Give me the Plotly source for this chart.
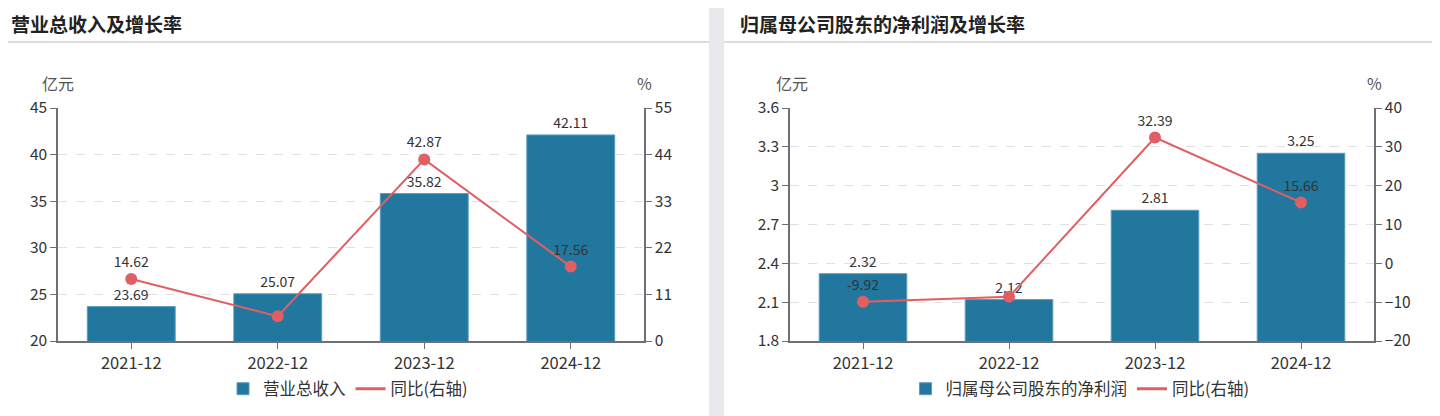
import plotly.graph_objects as go

W, H = 1440, 416
OFF = 8  # the page puts the figure 8px in from the corner

periods = ["2021-12", "2022-12", "2023-12", "2024-12"]
revenue = [23.69, 25.07, 35.82, 42.11]
revenue_yoy = [14.62, 5.83, 42.87, 17.56]
revenue_yoy_text = ["14.62", "", "42.87", "17.56"]
profit = [2.32, 2.12, 2.81, 3.25]
profit_yoy = [-9.92, -8.62, 32.39, 15.66]
profit_yoy_text = ["-9.92", "", "32.39", "15.66"]

BAR = "#22779f"
LINE = "#e05f63"
AXIS = "#6e7079"
FONT = "Noto Sans CJK SC, Noto Sans, sans-serif"


def px(x):
    return (x - OFF) / W


def py(y):
    return 1 - (y - OFF) / H


fig = go.Figure()


def add_panel(xa, ya, ya2, leg, bar_name, bars, yoy, yoy_text):
    fig.add_trace(go.Bar(x=periods, y=bars, name=bar_name,
                         marker=dict(color=BAR, line=dict(color="#5a9cc4", width=1)),
                         width=0.6, text=[f"{v:.2f}" for v in bars], textposition="outside",
                         textfont=dict(size=14, color="#333"), cliponaxis=False,
                         xaxis=xa, yaxis=ya, legend=leg))
    fig.add_trace(go.Scatter(x=periods, y=yoy, name="同比(右轴)", mode="lines+markers+text",
                             line=dict(color=LINE, width=2), marker=dict(color=LINE, size=12),
                             text=yoy_text, textposition="top center",
                             textfont=dict(size=14, color="#333"), cliponaxis=False,
                             showlegend=False, xaxis=xa, yaxis=ya2))
    # legend entry: plain line, no marker
    fig.add_trace(go.Scatter(x=[None], y=[None], name="同比(右轴)", mode="lines",
                             line=dict(color=LINE, width=3), xaxis=xa, yaxis=ya2, legend=leg))


add_panel("x", "y", "y2", "legend", "营业总收入", revenue, revenue_yoy, revenue_yoy_text)
add_panel("x2", "y3", "y4", "legend2", "归属母公司股东的净利润", profit, profit_yoy, profit_yoy_text)

xcommon = dict(type="category", showline=True, linecolor=AXIS, linewidth=1.5, ticks="outside", ticklen=6,
               tickcolor=AXIS, tickfont=dict(size=16.5, color="#333"), showgrid=False, zeroline=False,
               fixedrange=True, automargin=False)
ycommon = dict(showline=True, linecolor=AXIS, linewidth=1.5, ticks="outside", ticklen=6, tickcolor=AXIS,
               tickfont=dict(size=15.5, color="#333"), zeroline=False, fixedrange=True, automargin=False)
grid = dict(showgrid=True, gridcolor="#e0e0e0", griddash="dash", gridwidth=1)

ydom = [py(341), py(108)]
legfont = dict(size=16.5, color="#333")

fig.update_layout(
    width=W, height=H,
    margin=dict(l=0, r=0, t=0, b=0, pad=0, autoexpand=False),
    paper_bgcolor="#e8e9ec",
    plot_bgcolor="rgba(0,0,0,0)",
    font=dict(family=FONT, color="#333"),
    xaxis=dict(domain=[px(58), px(644)], anchor="y", **xcommon),
    yaxis=dict(domain=ydom, anchor="x", range=[20, 45], dtick=5, **grid, **ycommon),
    yaxis2=dict(overlaying="y", side="right", anchor="x", range=[0, 55], dtick=11, showgrid=False, **ycommon),
    xaxis2=dict(domain=[px(790), px(1374)], anchor="y3", **xcommon),
    yaxis3=dict(domain=ydom, anchor="x2", range=[1.8, 3.6], dtick=0.3, tickformat="~r", **grid, **ycommon),
    yaxis4=dict(overlaying="y3", side="right", anchor="x2", range=[-20, 40], dtick=10, showgrid=False, **ycommon),
    legend=dict(orientation="h", x=px(348), y=py(389), xanchor="center", yanchor="middle",
                bgcolor="rgba(0,0,0,0)", font=legfont, itemwidth=30),
    legend2=dict(orientation="h", x=px(1080), y=py(389), xanchor="center", yanchor="middle",
                 bgcolor="rgba(0,0,0,0)", font=legfont, itemwidth=30),
    showlegend=True,
)

# white cards with header separators
shapes = []
for x0, x1 in [(0, 709), (724, 1437)]:
    shapes.append(dict(type="rect", xref="paper", yref="paper", x0=px(x0), x1=px(x1), y0=-0.1, y1=py(5),
                       fillcolor="white", line=dict(width=0), layer="below"))
    shapes.append(dict(type="line", xref="paper", yref="paper", x0=px(x0), x1=px(x1), y0=py(42), y1=py(42),
                       line=dict(color="#dcdcdc", width=2), layer="below"))
fig.update_layout(shapes=shapes)

annotations = [
    dict(text="<b>营业总收入及增长率</b>", x=px(9), y=py(24), xanchor="left", yanchor="middle",
         font=dict(size=19, color="#222")),
    dict(text="<b>归属母公司股东的净利润及增长率</b>", x=px(738), y=py(24), xanchor="left", yanchor="middle",
         font=dict(size=19, color="#222")),
    dict(text="亿元", x=px(58), y=py(83), xanchor="center", yanchor="middle", font=dict(size=16, color="#555")),
    dict(text="%", x=px(644), y=py(83), xanchor="center", yanchor="middle", font=dict(size=16, color="#555")),
    dict(text="亿元", x=px(792), y=py(83), xanchor="center", yanchor="middle", font=dict(size=16, color="#555")),
    dict(text="%", x=px(1374), y=py(83), xanchor="center", yanchor="middle", font=dict(size=16, color="#555")),
]
for a in annotations:
    a.update(xref="paper", yref="paper", showarrow=False)
fig.update_layout(annotations=annotations)

fig.write_html("out.html")
